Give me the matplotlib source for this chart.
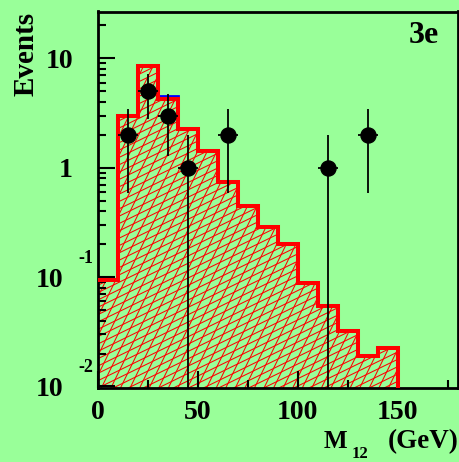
import numpy as np
import matplotlib
matplotlib.use("Agg")
import matplotlib.pyplot as plt
from matplotlib.collections import LineCollection
from matplotlib.ticker import FixedLocator, FixedFormatter, LogLocator, NullFormatter, MultipleLocator
from matplotlib.transforms import Affine2D

# ---- data -------------------------------------------------------------
bin_edges = list(range(0, 190, 10))                       # M12 bins (GeV)
expected = [0.095, 3.0, 8.45, 4.25, 2.27, 1.41, 0.745, 0.45, 0.285,
            0.20, 0.088, 0.055, 0.032, 0.019, 0.0226, 0.0, 0.0, 0.0]
expected_total = [0.095, 3.0, 8.45, 4.55, 2.27, 1.41, 0.745, 0.45, 0.285,
                  0.20, 0.088, 0.055, 0.032, 0.019, 0.0226, 0.0, 0.0, 0.0]
data_x = [15, 25, 35, 45, 65, 115, 135]
data_n = [2, 5, 3, 1, 2, 1, 2]
data_err = [1.414, 2.236, 1.732, 1.0, 1.414, 1.0, 1.414]
data_xerr = 5
x_ticks = [0, 50, 100, 150]
y_ticks = [0.01, 0.1, 1, 10]
y_tick_labels = ["", "", "1", "10"]
y_exp_ticks = [0.1, 0.01]
y_exp_labels = ["-1", "-2"]
channel = "3e"

# ---- style ------------------------------------------------------------
BG = "#99ff99"
plt.rcParams["font.family"] = ["Liberation Serif", "DejaVu Serif"]
plt.rcParams["font.weight"] = "bold"

W, H = 459, 462
fig = plt.figure(figsize=(W / 100, H / 100), dpi=100, facecolor=BG)
left, right, top, bottom = 97.7, 458.0, 11.5, 387.7
ax = fig.add_axes([left / W, 1 - bottom / H, (right - left) / W, (bottom - top) / H])
ax.set_facecolor(BG)
for s in ax.spines.values():
    s.set_linewidth(2.0)

ax.set_yscale("log")
ax.set_xlim(0, 180)
ax.set_ylim(0.00975, 26.8)

# hatched area under the expectation
fill = ax.stairs(expected, bin_edges, fill=True, baseline=1e-4,
                 facecolor="none", edgecolor="none", zorder=1)

# crossed hatch lines, drawn in pixel space and clipped to the histogram
wpx, hpx = right - left, bottom - top
pix = Affine2D().scale(1 / wpx, 1 / hpx) + ax.transAxes
segs = []
for ang, step in ((26, 6.6), (64, 8.6)):
    th = np.radians(ang)
    d = np.array([np.cos(th), np.sin(th)])
    n = np.array([-np.sin(th), np.cos(th)])
    for c in np.arange(-700, 700, step):
        p0 = c * n - 900 * d
        p1 = c * n + 900 * d
        segs.append([p0, p1])
hatch = LineCollection(segs, colors="red", linewidths=0.75, transform=pix, zorder=1)
ax.add_collection(hatch)
hatch.set_clip_path(fill)

ax.stairs(expected_total, bin_edges, baseline=None, color="blue", lw=2.0, zorder=2)
ax.stairs(expected, bin_edges, baseline=None, color="red", lw=2.9, zorder=3)

ax.errorbar(data_x, data_n, yerr=data_err, xerr=data_xerr, fmt="o", color="black",
            ms=10.8, elinewidth=1.3, capsize=0, zorder=5)

# ---- axes decoration ---------------------------------------------------
ax.xaxis.set_major_locator(FixedLocator(x_ticks))
ax.xaxis.set_minor_locator(MultipleLocator(25))
ax.yaxis.set_major_locator(FixedLocator(y_ticks))
ax.yaxis.set_major_formatter(FixedFormatter(y_tick_labels))
ax.yaxis.set_minor_locator(LogLocator(base=10, subs=np.arange(2, 10)))
ax.yaxis.set_minor_formatter(NullFormatter())
ax.tick_params(which="both", direction="in", top=False, right=False, width=1.5)
ax.tick_params(which="major", length=12.2, labelsize=20)
ax.tick_params(which="minor", length=6)
ax.tick_params(axis="x", which="major", pad=8.5)
ax.tick_params(axis="y", which="major", pad=17.8)

for v, e in zip(y_exp_ticks, y_exp_labels):
    ax.annotate("10", xy=(0, v), xycoords=("axes fraction", "data"),
                xytext=(-24.8, 0), textcoords="offset points",
                ha="right", va="center_baseline", fontsize=20, annotation_clip=False)
    ax.annotate(e, xy=(0, v), xycoords=("axes fraction", "data"),
                xytext=(-3.2, 10.4), textcoords="offset points",
                ha="right", va="baseline", fontsize=13, annotation_clip=False)

ax.text((439 - left) / wpx, (bottom - 43.3) / hpx, channel, transform=ax.transAxes,
        ha="right", va="baseline", fontsize=23)

fig.text(13 / W, 1 - 11.7 / H, "Events", rotation=90, ha="left", va="top", fontsize=21)
fig.text(458.3 / W, 1 - 448.3 / H, "(GeV)", ha="right", va="baseline", fontsize=19.5)
fig.text(323.3 / W, 1 - 448.3 / H, "M", ha="left", va="baseline", fontsize=18)
fig.text(352.0 / W, 1 - 457.5 / H, "12", ha="left", va="baseline", fontsize=12)

fig.savefig("out.png", dpi=100, facecolor=BG)
